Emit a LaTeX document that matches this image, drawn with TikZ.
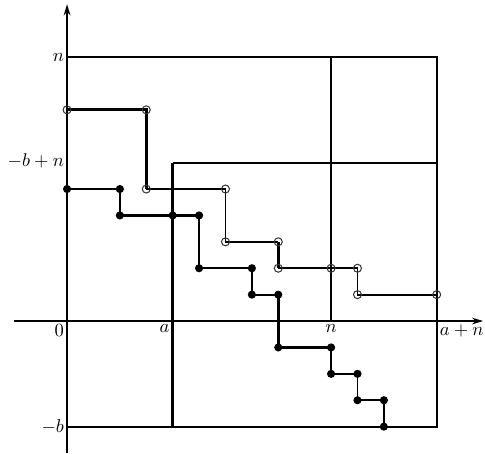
\documentclass[tikz,border=0pt]{standalone}
\usetikzlibrary{arrows.meta}
\begin{document}
\begin{tikzpicture}[x=0.5cm,y=0.5cm,
  thin line/.style={line width=0.95pt},
  thick line/.style={line width=1.45pt},
  axis/.style={line width=1.45pt,-{Stealth[length=6pt,width=3.6pt]}},
  fdot/.style={circle,fill=black,inner sep=0pt,minimum size=4.4pt},
  odot/.style={circle,draw=black!80,line width=0.55pt,inner sep=0pt,minimum size=4.3pt},
  lab/.style={inner sep=1.5pt,font=\normalsize}]
\useasboundingbox (-2.54,-5.0) rectangle (15.83,12.16);
% frames
\draw[thin line] (0,10) -- (14,10) -- (14,-4) -- (0,-4);
\draw[thin line] (10,0) -- (10,10);
\draw[thin line] (4,6) -- (14,6);
\draw[thick line] (4,-4) -- (4,6);
% axes
\draw[axis] (-2,0) -- (15.76,0);
\draw[line width=1.1pt,-{Stealth[length=6pt,width=3.6pt]}] (0,-5) -- (0,12);
% open path
\draw[thin line] (3,5) -- (6,5) -- (6,3) -- (8,3);
\draw[thin line] (8,2) -- (11,2) -- (11,1) -- (14,1);
\draw[thick line] (0,8) -- (3,8) -- (3,5);
\draw[thick line] (8,3) -- (8,2);
% filled path
\draw[thin line] (0,5) -- (2,5) -- (2,4);
\draw[thin line] (5,4) -- (5,2) -- (7,2) -- (7,1) -- (8,1);
\draw[thin line] (10,-1) -- (10,-2) -- (11,-2) -- (11,-3) -- (12,-3);
\draw[thick line] (2,4) -- (5,4);
\draw[thick line] (8,1) -- (8,-1) -- (10,-1);
\draw[thick line] (12,-3) -- (12,-4);
% open circles
\foreach \p [count=\i] in {(0,8),(3,8),(3,5),(6,5),(6,3),(8,3),(8,2),(10,2),(11,2),(11,1),(14,1)}
  \node[odot] (o\i) at \p {};
% filled dots
\foreach \p [count=\i] in {(0,5),(2,5),(2,4),(4,4),(5,4),(5,2),(7,2),(7,1),(8,1),(8,-1),(10,-1),(10,-2),(11,-2),(11,-3),(12,-3),(12,-4)}
  \node[fdot] (f\i) at \p {};
% labels
\node[lab,anchor=east] (ln) at (0,10) {$n$};
\node[lab,anchor=east] (lbn) at (0,6.05) {$-b+n$};
\node[lab,anchor=east] (lb) at (0,-4) {$-b$};
\node[lab,anchor=north east] (l0) at (0,0) {$0$};
\node[lab,anchor=north east] (la) at (4,0) {$a$};
\node[lab,anchor=north] (lnx) at (10,0) {$n$};
\node[lab,anchor=north west] (lan) at (14,0) {$a+n$};
\end{tikzpicture}
\end{document}
